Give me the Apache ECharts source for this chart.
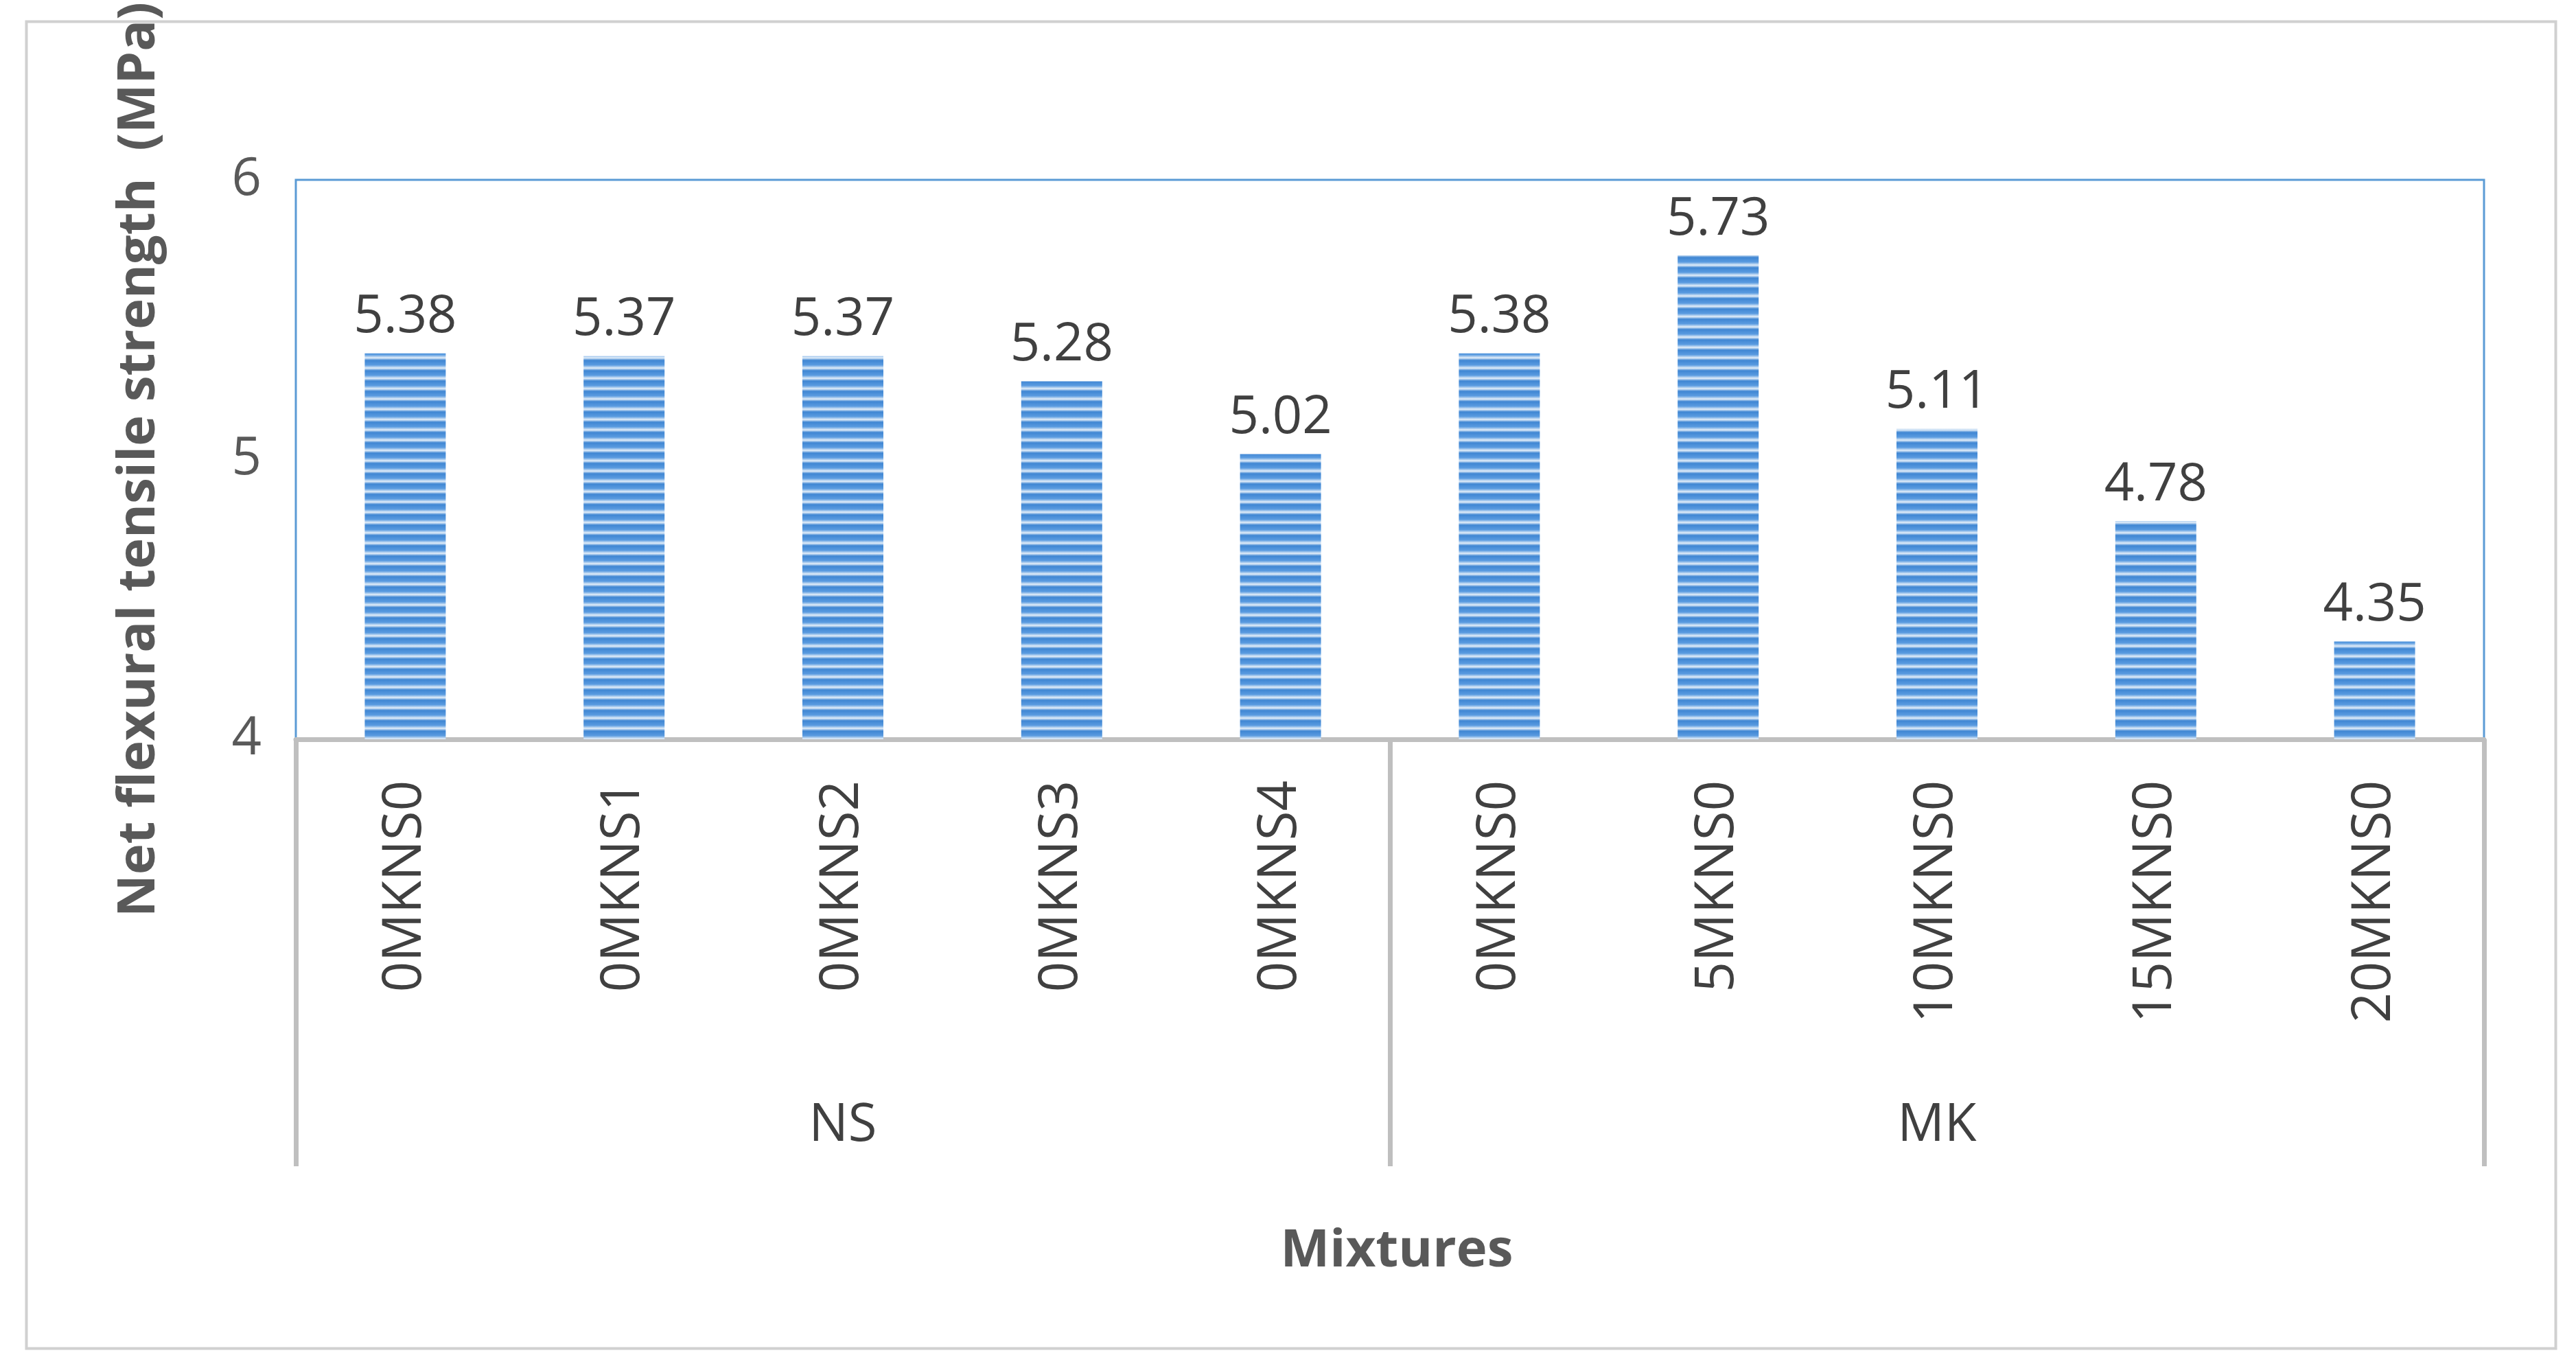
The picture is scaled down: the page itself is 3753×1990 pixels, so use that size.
<!DOCTYPE html>
<html>
<head>
<meta charset="utf-8">
<script src="https://cdn.jsdelivr.net/npm/echarts@6/dist/echarts.min.js"></script>
<style>
  html, body { margin: 0; padding: 0; background: #fff; }
  #chart { width: 3753px; height: 1990px; }
</style>
</head>
<body>
<div id="chart"></div>
<script>
var mixtures = ['0MKNS0', '0MKNS1', '0MKNS2', '0MKNS3', '0MKNS4', '0MKNS0', '5MKNS0', '10MKNS0', '15MKNS0', '20MKNS0'];
var groups = ['NS', 'MK'];
var strength = [5.38, 5.37, 5.37, 5.28, 5.02, 5.38, 5.73, 5.11, 4.78, 4.35];

// horizontal stripe pattern for the bars
var stripe = document.createElement('canvas');
stripe.width = 4;
stripe.height = 15;
var ctx = stripe.getContext('2d');
var g = ctx.createLinearGradient(0, 0, 0, 15);
g.addColorStop(0, '#3f86d3');
g.addColorStop(0.45, '#5a9be0');
g.addColorStop(0.75, '#e3eef9');
g.addColorStop(1, '#3f86d3');
ctx.fillStyle = g;
ctx.fillRect(0, 0, 4, 15);

var chart = echarts.init(document.getElementById('chart'));
var font = '"Open Sans", sans-serif';
var axisGrey = '#bfbfbf';

chart.setOption({
  backgroundColor: '#fff',
  textStyle: { fontFamily: font },
  title: {
    text: 'Mixtures',
    left: 2030, top: 1780, textAlign: 'center',
    textStyle: { fontSize: 76, fontWeight: 'bold', color: '#595959', fontFamily: font }
  },
  graphic: [{
    type: 'rect', left: 36, top: 29,
    shape: { width: 3685, height: 1933 },
    style: { fill: 'none', stroke: '#d0d0d0', lineWidth: 4 }
  }],
  grid: {
    left: 431, right: 134, top: 139, bottom: 913,
    show: true, borderColor: '#5b9bd5', borderWidth: 3
  },
  xAxis: [{
    type: 'category',
    data: mixtures,
    position: 'bottom',
    axisLine: { lineStyle: { color: axisGrey, width: 7 } },
    axisTick: { show: false },
    axisLabel: { rotate: 90, fontSize: 78, color: '#404040', margin: 60 }
  }, {
    type: 'category',
    data: groups,
    position: 'bottom',
    axisLine: { show: false },
    axisTick: { show: true, length: 622, lineStyle: { color: axisGrey, width: 7 } },
    axisLabel: { fontSize: 76, color: '#404040', margin: 525 },
    splitLine: { show: false }
  }],
  yAxis: {
    type: 'value',
    min: 4, max: 6, interval: 1,
    name: 'Net flexural tensile strength  (MPa)',
    nameLocation: 'middle', nameGap: 190, nameRotate: 90,
    nameTextStyle: { fontSize: 76, fontWeight: 'bold', color: '#595959' },
    axisLine: { show: false },
    axisTick: { show: false },
    splitLine: { show: false },
    axisLabel: { fontSize: 76, color: '#595959', margin: 50 }
  },
  series: [{
    type: 'bar',
    xAxisIndex: 0,
    data: strength,
    barWidth: 118,
    itemStyle: { color: { image: stripe, repeat: 'repeat' } },
    label: {
      show: true, position: 'top', distance: 14,
      fontSize: 76, color: '#404040',
      formatter: function (p) { return p.value.toFixed(2); }
    }
  }]
});
</script>
</body>
</html>
